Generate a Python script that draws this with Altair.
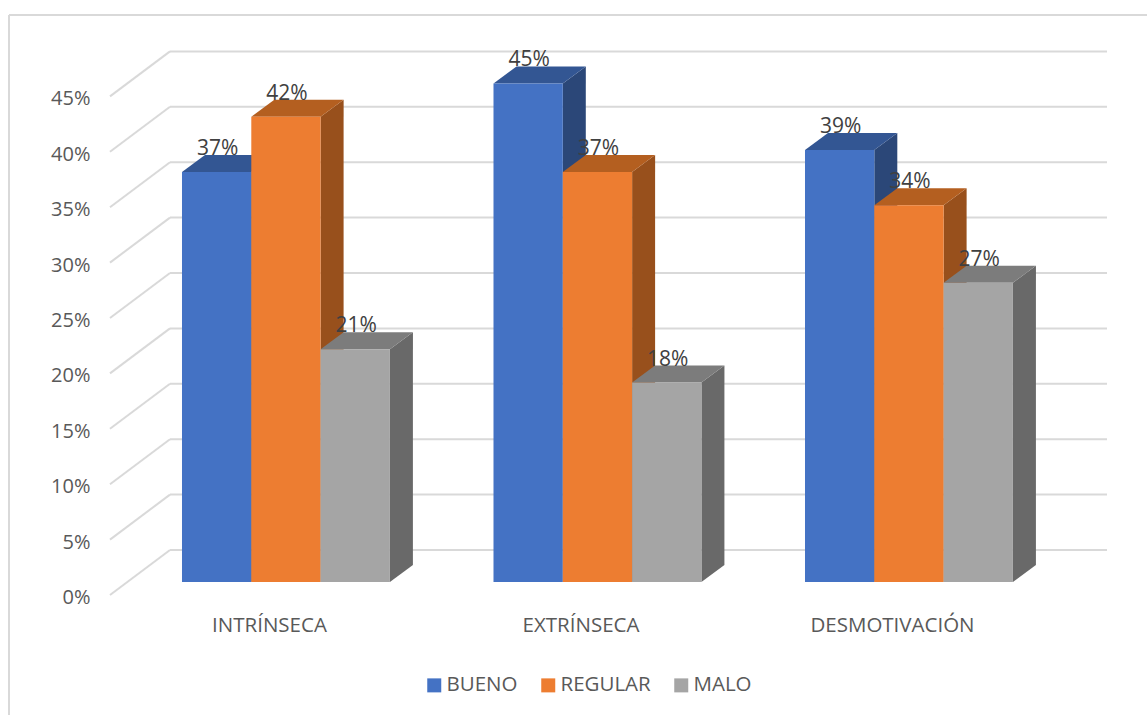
import json
import altair as alt
import pandas as pd

# Chart values
categories = ["INTRÍNSECA", "EXTRÍNSECA", "DESMOTIVACIÓN"]
series_names = ["BUENO", "REGULAR", "MALO"]
bueno = [37, 45, 39]
regular = [42, 37, 34]
malo = [21, 18, 27]
y_ticks = [0, 5, 10, 15, 20, 25, 30, 35, 40, 45]

front_colors = ["#4472C4", "#ED7D31", "#A5A5A5"]
top_colors = ["#335693", "#B45F20", "#7C7C7C"]
side_colors = ["#2B4778", "#98501C", "#696969"]

GRID = "#D9D9D9"
FONT = "Open Sans"

# Oblique projection: the x unit is one category, the y unit is one percent
WALL_DX, WALL_DY = 0.1926, 4.06  # floor depth, front edge to back wall
BAR_DX, BAR_DY = 0.0738, 1.534   # depth of one column
BAR_BASE = 1.173                 # height of the column front above the floor's front edge
BAR_START = 0.2311               # first column's left edge within its category
BAR_W = 0.2225
X_MAX, Y_MAX = 3.2006, 50

series_values = [bueno, regular, malo]

front_rows, top_rows, side_rows = [], [], []
for s, (name, values) in enumerate(zip(series_names, series_values)):
    for c, (cat, v) in enumerate(zip(categories, values)):
        left = c + BAR_START + s * BAR_W
        right = left + BAR_W
        top = v + BAR_BASE
        key = f"{name}-{cat}"
        front_rows.append(dict(series=name, cat=cat, value=v, left=left, right=right,
                               mid=(left + right) / 2, top=top, base=BAR_BASE,
                               label=f"{v}%"))
        for k in (0, 1):
            top_rows.append(dict(series=name, bar=key,
                                 y=top + k * BAR_DY,
                                 x=left + k * BAR_DX, x2=right + k * BAR_DX))
            side_rows.append(dict(series=name, bar=key,
                                  x=right + k * BAR_DX,
                                  y=top + k * BAR_DY, y2=BAR_BASE + k * BAR_DY))

front = pd.DataFrame(front_rows)
tops = pd.DataFrame(top_rows)
sides = pd.DataFrame(side_rows)
walls = pd.DataFrame({
    "tick": y_ticks,
    "x0": [0.0] * len(y_ticks),
    "xb": [WALL_DX] * len(y_ticks),
    "xe": [X_MAX] * len(y_ticks),
    "yb": [t + WALL_DY for t in y_ticks],
})

x_scale = alt.Scale(domain=[0, X_MAX], nice=False, zero=False)
y_scale = alt.Scale(domain=[0, Y_MAX], nice=False, zero=False)

label_lookup = json.dumps(categories, ensure_ascii=False)
x_axis = alt.Axis(
    values=[0.5104, 1.5104, 2.5104],
    labelExpr=f"{label_lookup}[round(datum.value - 0.5104)]",
    domain=False, ticks=False, grid=False, title=None,
    labelFont=FONT, labelFontSize=20.5, labelColor="#595959",
    labelPadding=20, labelBaseline="top", labelFlush=False, labelOverlap=False,
)
y_axis = alt.Axis(
    values=y_ticks, labelExpr="datum.value + '%'",
    domain=False, ticks=False, grid=False, title=None,
    labelFont=FONT, labelFontSize=20, labelColor="#595959", labelPadding=20,
    labelOffset=2.5,
)


def xq(field):
    return alt.X(field, scale=x_scale, axis=x_axis)


def yq(field):
    return alt.Y(field, scale=y_scale, axis=y_axis)


# Back wall gridlines and their diagonals across the side wall
back_lines = alt.Chart(walls).mark_rule(color=GRID, strokeWidth=2).encode(
    x=xq("xb:Q"), x2="xe:Q", y=yq("yb:Q"),
)
diagonals = alt.Chart(walls).mark_rule(color=GRID, strokeWidth=2).encode(
    x=xq("x0:Q"), x2="xb:Q", y=yq("tick:Q"), y2="yb:Q",
)

# Chart frame: left and top edges only
frame_left = alt.Chart(walls.head(1)).mark_rule(color=GRID, strokeWidth=2).encode(
    x=alt.value(-101), y=alt.value(-26), y2=alt.value(674),
)
frame_top = alt.Chart(walls.head(1)).mark_rule(color=GRID, strokeWidth=2).encode(
    x=alt.value(-101), x2=alt.value(1037), y=alt.value(-26),
)

layers = [frame_left, frame_top, back_lines, diagonals]

# Columns are painted left to right so nearer faces cover earlier ones
for name, top_c, side_c in zip(series_names, top_colors, side_colors):
    side_layer = alt.Chart(sides[sides.series == name]).mark_area(
        color=side_c, orient="vertical"
    ).encode(
        x=xq("x:Q"), y=yq("y:Q"), y2="y2:Q", detail="bar:N",
    )
    top_layer = alt.Chart(tops[tops.series == name]).mark_area(
        color=top_c, orient="horizontal"
    ).encode(
        x=xq("x:Q"), x2="x2:Q", y=yq("y:Q"), detail="bar:N",
    )
    front_layer = alt.Chart(front[front.series == name]).mark_rect().encode(
        x=xq("left:Q"), x2="right:Q", y=yq("top:Q"), y2="base:Q",
        color=alt.Color(
            "series:N",
            scale=alt.Scale(domain=series_names, range=front_colors),
            legend=alt.Legend(
                title=None, orient="none", direction="horizontal",
                legendX=314, legendY=634,
                symbolType="square", symbolSize=196, symbolStrokeWidth=0,
                labelFont=FONT, labelFontSize=20.5, labelColor="#595959",
                columnPadding=20, labelOffset=2,
            ),
        ),
    )
    layers += [side_layer, top_layer, front_layer]

value_labels = alt.Chart(front).mark_text(
    font=FONT, fontSize=21, color="#404040", baseline="bottom", dy=-13, dx=1
).encode(
    x=xq("mid:Q"), y=yq("top:Q"), text="label:N",
)
layers.append(value_labels)

chart = alt.layer(*layers).properties(
    width=997, height=554,
    autosize=alt.AutoSizeParams(type="none"),
    padding={"left": 110, "top": 41, "right": 40, "bottom": 120},
    background="white",
).configure_view(stroke=None)

chart.save("out.html", embed_options={"renderer": "svg", "actions": False})
